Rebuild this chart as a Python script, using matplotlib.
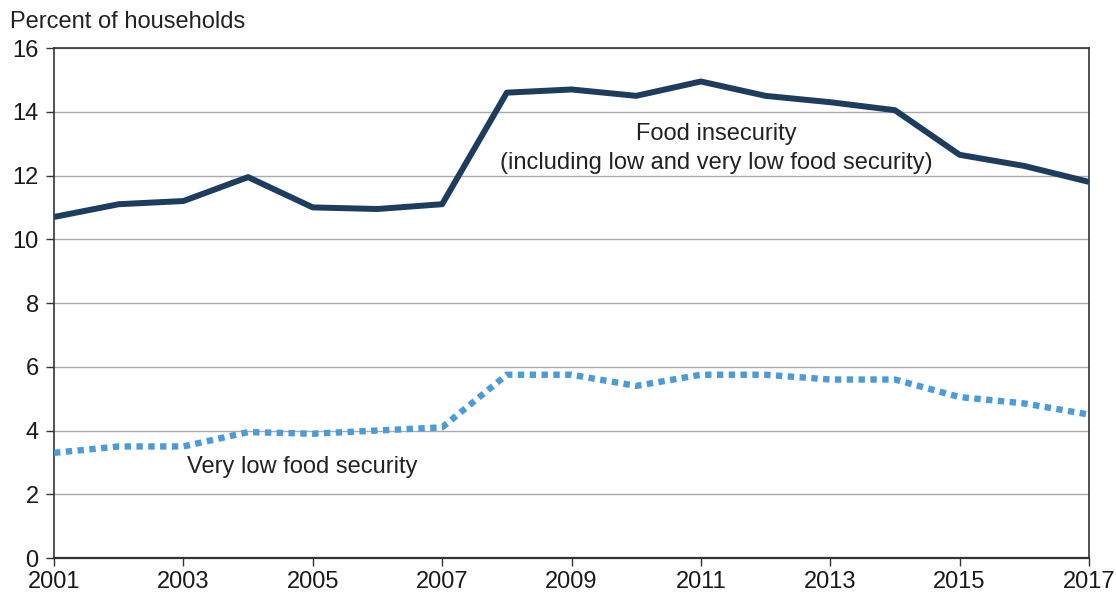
import matplotlib
matplotlib.use("Agg")
import matplotlib.pyplot as plt

years = list(range(2001, 2018))
food_insecurity = [10.7, 11.1, 11.2, 11.95, 11.0, 10.95, 11.1, 14.6, 14.7, 14.5, 14.95, 14.5, 14.3, 14.05, 12.65, 12.3, 11.8]
very_low = [3.3, 3.5, 3.5, 3.95, 3.9, 4.0, 4.1, 5.75, 5.75, 5.4, 5.75, 5.75, 5.6, 5.6, 5.05, 4.85, 4.5]

xticks = list(range(2001, 2018, 2))
yticks = list(range(0, 17, 2))

plt.rcParams["font.family"] = ["Liberation Sans", "DejaVu Sans"]

fig = plt.figure(figsize=(11.16, 5.93), dpi=100)
ax = fig.add_axes([0.0484, 0.059, 0.9274, 0.86])

ax.plot(years, food_insecurity, color="#1d3c5e", linewidth=4.3, solid_capstyle="butt", zorder=3)
ax.plot(years, very_low, color="#4b9bd8", linewidth=4.6, linestyle=(0, (1, 0.85)), dash_capstyle="butt", zorder=3)

ax.set_xlim(2001, 2017)
ax.set_ylim(0, 16)
ax.set_xticks(xticks)
ax.set_yticks(yticks)
ax.tick_params(axis="both", labelsize=17, length=6, width=1, color="#333333", direction="out",
               labelcolor="#1a1a1a")
ax.tick_params(axis="x", pad=3)
ax.tick_params(axis="y", pad=5)
ax.grid(axis="y", color="#aaaaaa", linewidth=1)
ax.set_axisbelow(True)

for side in ["left", "bottom", "right", "top"]:
    ax.spines[side].set_color("#333333")
ax.spines["bottom"].set_linewidth(1.6)
ax.spines["left"].set_linewidth(1.2)
ax.spines["right"].set_linewidth(1.2)
ax.spines["top"].set_linewidth(1.2)

ax.text(2011.24, 12.85, "Food insecurity\n(including low and very low food security)",
        ha="center", va="center", fontsize=17, color="#222222", linespacing=1.45)
ax.text(2003.06, 2.85, "Very low food security", ha="left", va="center", fontsize=17, color="#222222")

fig.text(0.009, 0.982, "Percent of households", ha="left", va="top", fontsize=17, color="#222222")

fig.savefig("out.png", dpi=100)
